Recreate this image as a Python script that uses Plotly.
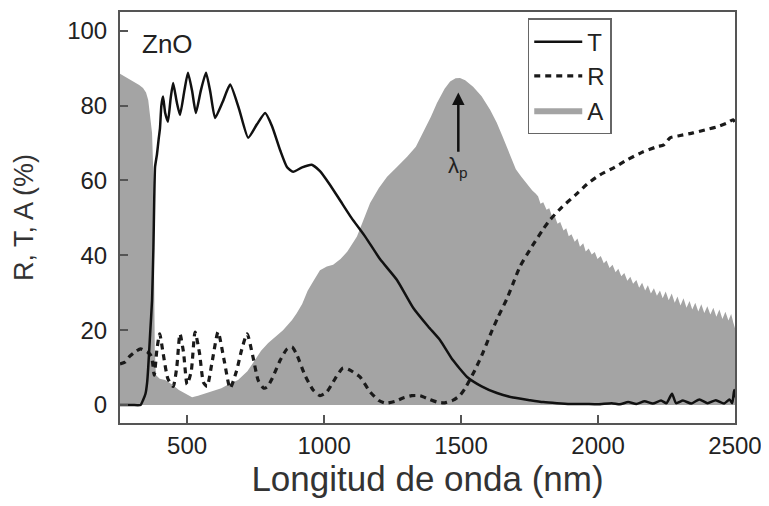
import plotly.graph_objects as go

# Transmittance T (%)
t_nm = [255, 300, 330, 339, 348, 354, 358, 365, 372, 377, 380, 383, 390, 396, 401, 406, 412, 420, 430, 440,
        449, 462, 474, 490, 503, 518, 532, 550, 569, 585, 602, 630, 657, 690, 723, 755, 785, 810, 840, 865,
        887, 920, 955, 985, 1020, 1060, 1100, 1150, 1204, 1266, 1325, 1380, 1423, 1470, 1522, 1575, 1631,
        1690, 1752, 1800, 1850, 1900, 1950, 2000, 2050, 2080, 2110, 2140, 2170, 2200, 2230, 2250, 2270,
        2285, 2310, 2340, 2370, 2400, 2430, 2460, 2480, 2490, 2497, 2500]
t_val = [0, 0, 0, 1.3, 3, 6, 10, 19, 28, 42, 55, 63.6, 67, 71, 74, 80, 82.4, 78, 75.7, 82,
         86, 81, 77.5, 84, 88.8, 84, 78, 84, 88.8, 83.5, 76.7, 81, 85.6, 79, 71.4, 75, 78, 74.5, 68, 63.5,
         62.3, 63.5, 64.2, 62.5, 59, 54.5, 50, 45, 39, 33.4, 26, 21, 17.4, 12, 7.5, 5, 3.2,
         2, 1.3, 0.8, 0.5, 0.3, 0.3, 0.2, 0.5, 0.2, 0.8, 0.3, 1, 0.4, 1.2, 0.5, 3,
         0.5, 1.2, 0.4, 1.5, 0.5, 1.3, 0.4, 1.5, 0.5, 4, 2]

# Reflectance R (%)
r_nm = [255, 274, 290, 310, 330, 345, 358, 370, 380, 390, 400, 412, 430, 449, 462, 474, 487, 500, 515, 529,
        545, 560, 573, 590, 613, 635, 657, 680, 700, 719, 740, 760, 780, 792, 810, 840, 865, 883, 900, 930,
        960, 985, 1010, 1040, 1069, 1090, 1131, 1168, 1200, 1223, 1260, 1288, 1320, 1350, 1385, 1412, 1440,
        1471, 1495, 1515, 1551, 1580, 1606, 1635, 1668, 1690, 1715, 1760, 1800, 1825, 1870, 1916, 1960,
        2007, 2060, 2106, 2160, 2215, 2240, 2263, 2300, 2347, 2390, 2434, 2470, 2493, 2500]
r_val = [11, 11.5, 13, 14.2, 15, 14.5, 14, 13, 8, 15, 19, 14, 7, 5, 10, 19, 14, 5.5, 9, 19.5,
         14, 6, 5, 11, 19.5, 12, 4.5, 9, 15, 19, 13, 6.5, 4.5, 4.8, 7, 12, 15, 15.5, 13.5, 8,
         4, 2.5, 3.5, 7, 9.9, 9.5, 7.5, 3.5, 1.2, 0.5, 1, 1.9, 2.5, 2.5, 1.5, 0.8, 0.6,
         1.3, 2.5, 4.5, 9.4, 14, 18.7, 23.5, 28.5, 32.5, 37, 42.5, 47, 49.5, 53, 56, 59,
         61.5, 63.5, 65.5, 67.5, 69, 69.5, 71.4, 72, 72.7, 73.5, 74.3, 75.3, 76.2, 75.5]

# Absorptance A (%)
a_nm = [255, 280, 303, 325, 339, 350, 358, 366, 372, 376, 379, 382, 386, 400, 420, 445, 470, 495, 518, 540,
        560, 580, 602, 625, 650, 686, 720, 748, 770, 796, 820, 850, 883, 900, 920, 940, 960, 985, 1010,
        1033, 1060, 1085, 1120, 1145, 1168, 1200, 1230, 1265, 1303, 1335, 1361, 1390, 1412, 1440, 1460,
        1480, 1496, 1515, 1544, 1575, 1606, 1630, 1650, 1670, 1700, 1720, 1741,
        1760, 1772, 1781, 1790, 1800, 1812, 1822, 1833, 1843, 1852, 1862, 1874, 1884, 1893, 1903, 1915,
        1925, 1934, 1946, 1955, 1966, 1977, 1988, 1998, 2010, 2021, 2031, 2042, 2053, 2064, 2074, 2085,
        2096, 2107, 2118, 2128, 2140, 2150, 2161, 2172, 2182, 2193, 2204, 2215, 2226, 2236, 2247, 2258,
        2269, 2280, 2290, 2301, 2312, 2323, 2334, 2344, 2355, 2366, 2377, 2388, 2399, 2410, 2421, 2432,
        2443, 2454, 2465, 2476, 2486, 2494, 2500]
a_val = [88.5, 87.5, 86.4, 85.5, 84.7, 83.5, 81.5, 77, 72.7, 63.6, 40, 15, 8, 7, 6.7, 5.5, 4, 3, 2.1, 2.5,
         3, 3.5, 4, 4.5, 5.5, 6.7, 9, 12, 14.5, 16.6, 18, 20, 22.7, 24.5, 27, 30.5, 33, 36, 37,
         37.5, 39, 41, 45, 49.5, 54, 58, 61, 63.5, 66.3, 69, 72.7, 77, 80.7, 84.5, 86.4,
         87.3, 87.4, 86.8, 85, 82.5, 78.9, 75.5, 72, 68.5, 63, 61, 59,
         57.3, 56.5, 55.8, 53.8, 54.2, 52.2, 52.6, 50.2, 50.3, 48.4, 48.9, 46.6, 47.2, 45.1, 45.6, 43.6,
         44.5, 42.3, 43.2, 41.0, 41.8, 40.2, 40.9, 39.0, 39.8, 37.9, 38.6, 36.6, 37.5, 35.5, 36.4, 34.4,
         35.3, 33.2, 34.3, 32.4, 33.4, 31.3, 32.7, 30.6, 32.0, 29.8, 31.2, 29.2, 30.6, 28.5, 30.3, 28.0,
         29.8, 27.3, 29.0, 26.6, 28.5, 26.0, 27.8, 25.5, 27.3, 25.0, 26.9, 24.6, 26.4, 24.2, 26.0, 23.6,
         25.5, 23.0, 24.9, 22.6, 24.3, 22.0, 20.5]

x_ticks = [500, 1000, 1500, 2000, 2500]
y_ticks = [0, 20, 40, 60, 80, 100]

FONT = "Liberation Sans, Arial, sans-serif"
AXC = "#555555"

fig = go.Figure()
fig.add_trace(go.Scatter(x=a_nm, y=a_val, name="A", mode="lines", fill="tozeroy",
                         fillcolor="#a4a4a4", line=dict(width=0, color="#a4a4a4")))
fig.add_trace(go.Scatter(x=r_nm, y=r_val, name="R", mode="lines",
                         line=dict(color="#1a1a1a", width=3.2, dash="6px,5px", shape="spline", smoothing=0.6)))
fig.add_trace(go.Scatter(x=t_nm, y=t_val, name="T", mode="lines",
                         line=dict(color="#111111", width=2.5, shape="spline", smoothing=0.5)))

fig.add_annotation(x=1490, y=83.5, ax=1490, ay=63.5, axref="x", ayref="y", xref="x", yref="y",
                   text="λ<sub>p</sub>", showarrow=True, arrowhead=2, arrowsize=1, arrowwidth=2.5,
                   arrowcolor="#111111", font=dict(family=FONT, size=22, color="#222222"))
fig.add_annotation(x=430, y=96.5, xref="x", yref="y", text="ZnO", showarrow=False,
                   font=dict(family=FONT, size=26, color="#222222"))

# the page body adds an 8px offset, so the figure is 8px smaller and margins compensate
fig.update_layout(
    width=761, height=498,
    margin=dict(l=112, r=34, t=4, b=83),
    paper_bgcolor="white", plot_bgcolor="white",
    font=dict(family=FONT, size=24, color="#222222"),
    showlegend=True,
    legend=dict(x=0.663, y=0.985, xanchor="left", yanchor="top", traceorder="reversed",
                bordercolor="#666666", borderwidth=1.5, bgcolor="white", itemwidth=48,
                font=dict(family=FONT, size=24, color="#222222")),
    xaxis=dict(range=[255, 2500], tickvals=x_ticks, ticks="inside", ticklen=8, tickwidth=1.5,
               tickcolor=AXC, showline=True, linecolor=AXC, linewidth=2, mirror=True,
               showgrid=False, zeroline=False, tickfont=dict(size=24), automargin=False,
               title=dict(text="Longitud de onda (nm)", font=dict(size=35, color="#333333"), standoff=0)),
    yaxis=dict(range=[-4.8, 105], tickvals=y_ticks, ticks="inside", ticklen=8, tickwidth=1.5,
               tickcolor=AXC, showline=True, linecolor=AXC, linewidth=2, mirror=True,
               showgrid=False, zeroline=False, tickfont=dict(size=24), ticklabelstandoff=6,
               automargin=False,
               title=dict(text="R, T, A (%)", font=dict(size=27, color="#333333"), standoff=26)),
)

fig.write_html("out.html")
